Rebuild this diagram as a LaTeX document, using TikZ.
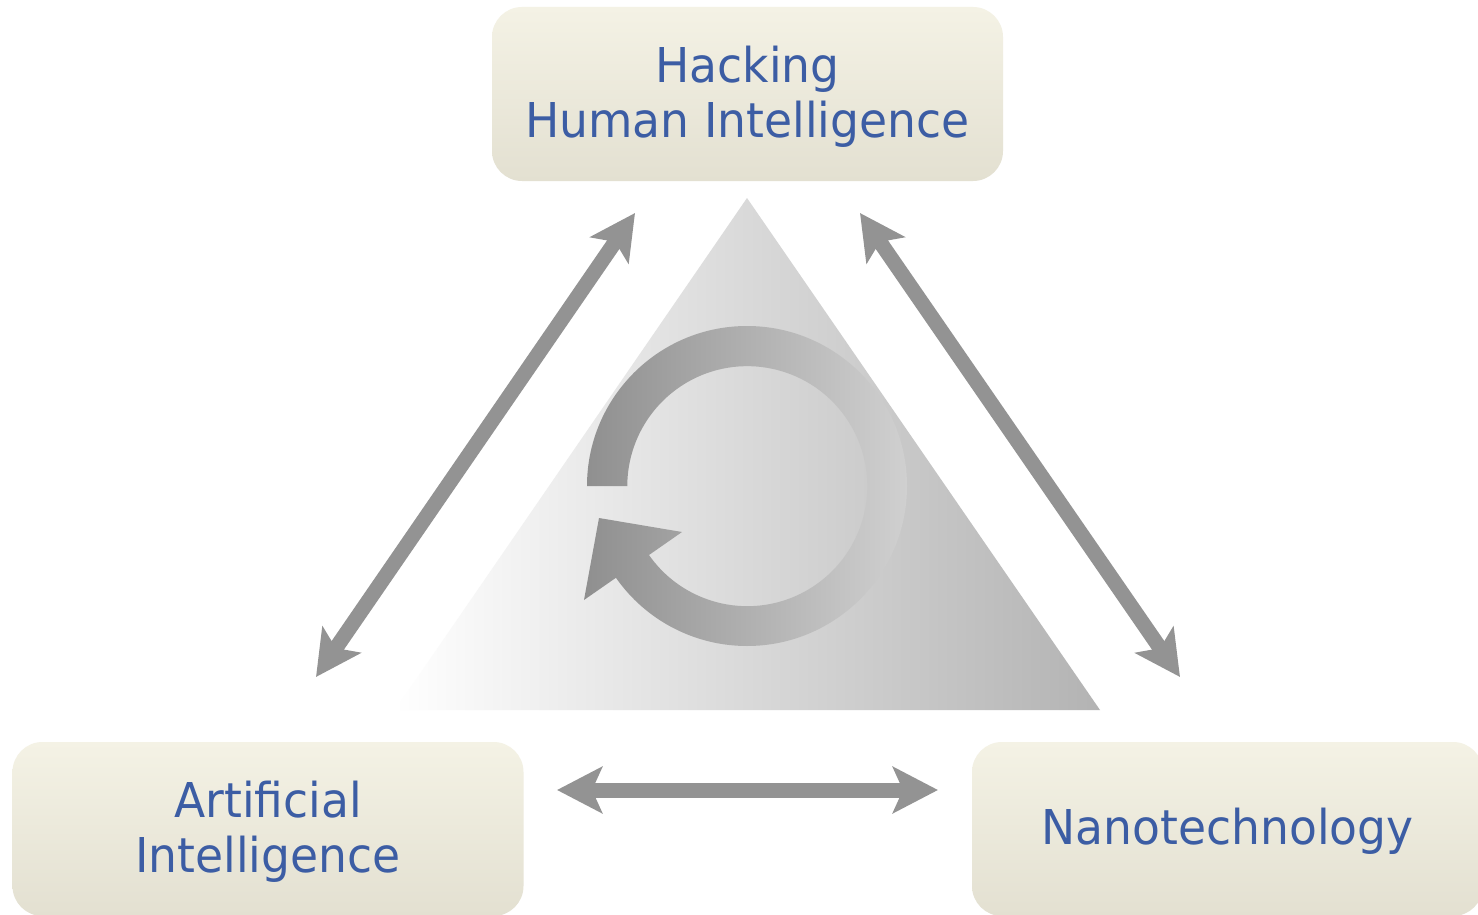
\documentclass[tikz,border=0pt]{standalone}
\usepackage{fontspec}
\setmainfont{DejaVu Sans}[FakeStretch=0.95]
\usetikzlibrary{arrows.meta}

\definecolor{boxtop}{HTML}{F4F2E5}
\definecolor{boxbot}{HTML}{E3E0D1}
\definecolor{txtblue}{HTML}{3C5DA4}
\definecolor{arrgray}{HTML}{939393}
\definecolor{tridark}{HTML}{B3B3B3}
\definecolor{ringdark}{HTML}{8F8F8F}
\definecolor{ringlight}{HTML}{D0D0D0}

\begin{document}
\begin{tikzpicture}[x=1pt, y=-1pt,
	topic/.style={rectangle, rounded corners=30pt, top color=boxtop, bottom color=boxbot, minimum width=511pt, minimum height=174pt, inner sep=0pt, text depth=5pt, text=txtblue, align=center, font=\fontsize{48}{55}\selectfont},
	link/.style={line width=15pt, draw=arrgray, {Stealth[length=45pt, width=46pt, inset=10pt]}-{Stealth[length=45pt, width=46pt, inset=10pt]}}]
	\clip (0,0) rectangle (1478,915);
	\fill[white] (0,0) rectangle (1478,915);
	% triangle and cycle arrow
	\path[left color=white, right color=tridark] (747,198) -- (1100,710) -- (395,710) -- cycle;
	\path[left color=ringdark, right color=ringlight] (587,486) arc[start angle=180, end angle=505, radius=160] -- (584,600) -- (599,518) -- (682,532) -- (649,555) arc[start angle=505, end angle=180, radius=120] -- cycle;
	% boxes
	\node[topic] (hhi) at (747.5,94) {Hacking\\Human Intelligence};
	\node[topic] (ai) at (268,829) {Artificial\\Intelligence};
	\node[topic] (nano) at (1227.5,829) {Nanotechnology};
	% arrow ends
	\coordinate (hhiL) at (635,213);
	\coordinate (hhiR) at (860,213);
	\coordinate (aiT) at (316,677);
	\coordinate (nanoT) at (1180,677);
	\coordinate (aiR) at (557,790);
	\coordinate (nanoL) at (938,790);
	\draw[link] (aiT) -- (hhiL);
	\draw[link] (hhiR) -- (nanoT);
	\draw[link] (aiR) -- (nanoL);
\end{tikzpicture}
\end{document}
